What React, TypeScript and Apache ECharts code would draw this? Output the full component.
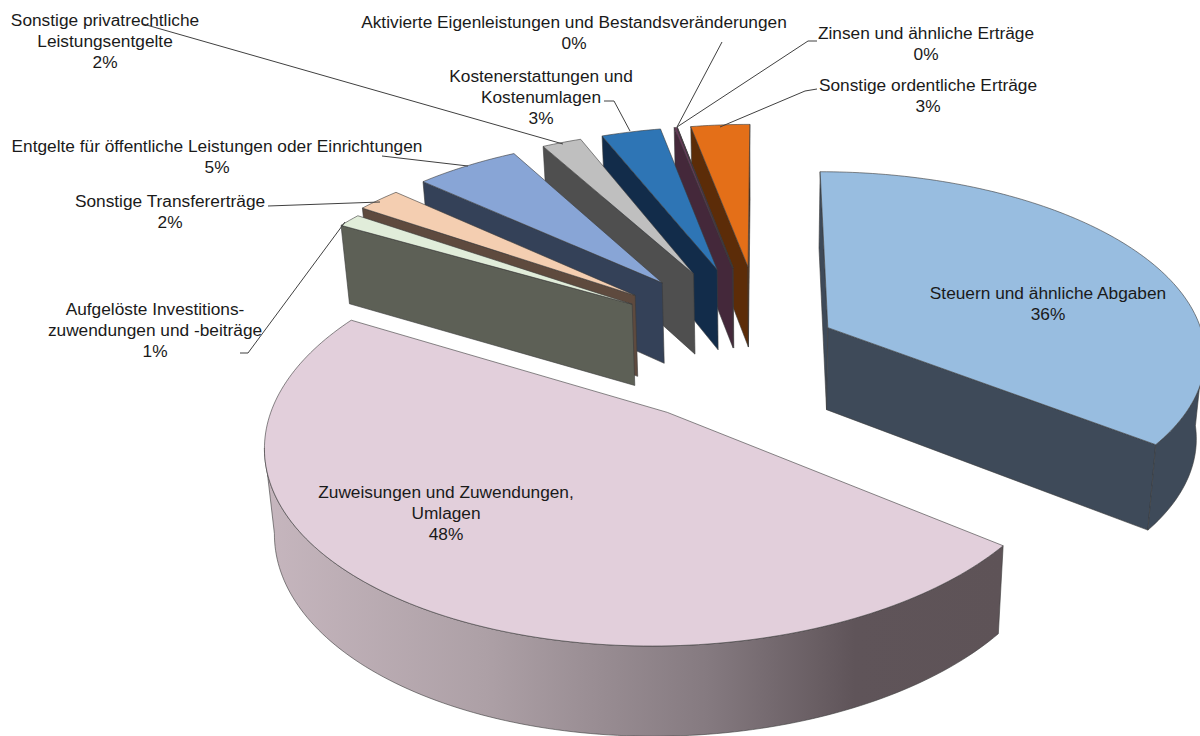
import React, { useEffect, useRef } from "react";
import * as echarts from "echarts";

const categories = [
  ["Steuern und ähnliche Abgaben"],
  ["Zuweisungen und Zuwendungen,", "Umlagen"],
  ["Aufgelöste Investitions-", "zuwendungen und -beiträge"],
  ["Sonstige Transfererträge"],
  ["Entgelte für öffentliche Leistungen oder Einrichtungen"],
  ["Sonstige privatrechtliche", "Leistungsentgelte"],
  ["Kostenerstattungen und", "Kostenumlagen"],
  ["Aktivierte Eigenleistungen und Bestandsveränderungen"],
  ["Zinsen und ähnliche Erträge"],
  ["Sonstige ordentliche Erträge"],
];
const shares = [35.4, 47.8, 1.2, 2.2, 5.25, 2.0, 3.02, 0.12, 0.02, 2.99];
const percentLabels = ["36%", "48%", "1%", "2%", "5%", "2%", "3%", "0%", "0%", "3%"];
const explosions = [0.194, 0.437, 0.42, 0.445, 0.447, 0.447, 0.447, 0.447, 0.447, 0.447];
const topColors = ["#98bde0", "#e2cfdb", "#e1edda", "#f4ceb1", "#88a5d6", "#bfbfbf", "#2e75b5", "#6b3a5c", "#6b3a5c", "#e46f18"];
const sideColors = ["#3e4a59", "", "#5d6056", "#5e4a3e", "#344158", "#4f4f4f", "#122c4a", "#44283a", "#44283a", "#5c2c08"];
const pinkWallStops = [
  { offset: 0, color: "#c6b6be" },
  { offset: 0.3, color: "#ada0a6" },
  { offset: 0.6, color: "#857a80" },
  { offset: 0.8, color: "#5f5459" },
  { offset: 1, color: "#5e5357" },
];

// label layout: centre x, y of first line's middle
const labelLayout = [
  [1048, 293],
  [446, 492],
  [155, 309],
  [170, 201],
  [217, 146],
  [105, 20],
  [541, 76],
  [574, 22],
  [926, 33],
  [928, 85],
];
const leaders = [
  null,
  null,
  [[240, 353], [248, 353], [345, 222]],
  [[268, 206], [380, 202]],
  [[382, 156], [468, 166]],
  [[143, 24], [563, 144]],
  [[604, 101], [614, 101], [630, 131]],
  [[722, 42], [677, 127]],
  [[817, 41], [808, 41], [677, 127]],
  [[817, 89], [805, 91], [720, 127]],
];

const CX = 763, CY = 343, R = 377, K = 0.48, P = 0.00036;
const FONT = "'Liberation Sans', Arial, sans-serif";
const total = shares.reduce((a, b) => a + b, 0);
const starts: number[] = [];
shares.reduce((acc, v, i) => { starts[i] = acc; return acc + v; }, 0);

const top = (X: number, Y: number) => {
  const s = 1 / (1 + P * Y);
  return [CX + X * s, CY - K * Y * s];
};
const bot = (X: number, Y: number) => {
  const s = 1 / (1 + P * Y);
  return [CX + X * s * 0.98, CY - K * Y * s + 82.5 - 0.015 * Y];
};
const area = (pts: number[][]) => {
  let a = 0;
  pts.forEach((p, i) => {
    const q = pts[(i + 1) % pts.length];
    a += p[0] * q[1] - q[0] * p[1];
  });
  return a;
};

function renderItem(_params: any, api: any) {
  const value = api.value(0) as number;
  const i = api.value(1) as number;
  const a1 = (starts[i] / total) * 2 * Math.PI;
  const a2 = ((starts[i] + value) / total) * 2 * Math.PI;
  const mid = (a1 + a2) / 2;
  const ex = explosions[i] * R;
  const ax = ex * Math.sin(mid), ay = ex * Math.cos(mid);
  const ground = (a: number) => [ax + R * Math.sin(a), ay + R * Math.cos(a)];
  const steps = Math.max(2, Math.ceil((a2 - a1) / 0.02));
  const arc: number[][] = [];
  for (let n = 0; n <= steps; n++) arc.push(ground(a1 + ((a2 - a1) * n) / steps));

  const edge = { stroke: "#3a3a3a", lineWidth: 0.6 };
  const side = sideColors[i] || new echarts.graphic.LinearGradient(0, 0, 1, 0, pinkWallStops);
  const children: any[] = [];

  const face = (a: number) => {
    const [gx, gy] = ground(a);
    return [top(ax, ay), top(gx, gy), bot(gx, gy), bot(ax, ay)];
  };
  const f1 = face(a1), f2 = face(a2);
  const flat = sideColors[i] || "#5e5357";
  if (area(f1) < 0) children.push({ type: "polygon", shape: { points: f1 }, style: { fill: flat, ...edge } });
  if (area(f2) > 0) children.push({ type: "polygon", shape: { points: f2 }, style: { fill: flat, ...edge } });

  const lo = Math.max(a1, (95 * Math.PI) / 180), hi = Math.min(a2, (260 * Math.PI) / 180);
  if (hi > lo) {
    const wt: number[][] = [], wb: number[][] = [];
    const m = Math.ceil((hi - lo) / 0.02);
    for (let n = 0; n <= m; n++) {
      const [gx, gy] = ground(lo + ((hi - lo) * n) / m);
      wt.push(top(gx, gy));
      wb.unshift(bot(gx, gy));
    }
    children.push({ type: "polygon", shape: { points: wt.concat(wb) }, style: { fill: side, ...edge } });
  }

  const surface = [top(ax, ay), ...arc.map(([x, y]) => top(x, y))];
  children.push({ type: "polygon", shape: { points: surface }, style: { fill: topColors[i], ...edge } });
  return { type: "group", children };
}

export default function App() {
  const ref = useRef<HTMLDivElement>(null);
  useEffect(() => {
    document.body.style.margin = "0";
    const chart = echarts.init(ref.current!, undefined, { renderer: "svg" });
    const labels: any[] = categories.map((lines, i) => ({
      type: "text",
      z: 20,
      x: labelLayout[i][0],
      y: labelLayout[i][1] - 10,
      style: {
        text: [...lines, percentLabels[i]].join("\n"),
        font: `17.3px ${FONT}`,
        lineHeight: 20.6,
        fill: "#1a1a1a",
        align: "center",
        verticalAlign: "top",
      },
    }));
    const lines: any[] = leaders.filter(Boolean).map((pts) => ({
      type: "polyline",
      z: 10,
      shape: { points: pts },
      style: { stroke: "#404040", lineWidth: 1, fill: "none" },
    }));
    chart.setOption({
      animation: false,
      backgroundColor: "#ffffff",
      series: [
        {
          type: "custom",
          coordinateSystem: "none",
          clip: false,
          silent: true,
          renderItem,
          data: shares.map((v, i) => [v, i]).reverse(),
        },
      ],
      graphic: { elements: [...lines, ...labels] },
    });
    return () => chart.dispose();
  }, []);
  return <div ref={ref} style={{ position: "absolute", left: 0, top: 0, width: 1200, height: 736 }} />;
}
